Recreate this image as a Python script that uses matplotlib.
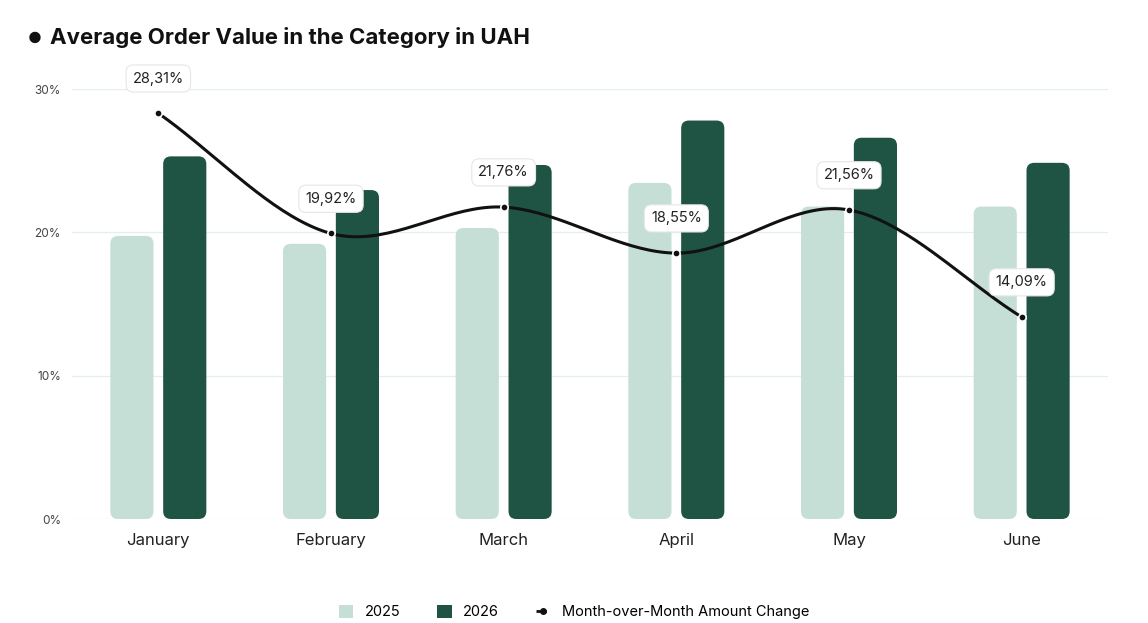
import matplotlib
matplotlib.use("Agg")
import matplotlib.pyplot as plt
import numpy as np
from matplotlib.patches import FancyBboxPatch
from matplotlib.lines import Line2D
from matplotlib.patches import Patch

plt.rcParams["font.family"] = ["Inter", "DejaVu Sans"]

months = ["January", "February", "March", "April", "May", "June"]
v2025 = [19.75, 19.2, 20.3, 23.45, 21.8, 21.8]
v2026 = [25.3, 22.95, 24.7, 27.8, 26.6, 24.85]
mom = [28.31, 19.92, 21.76, 18.55, 21.56, 14.09]
mom_labels = ["28,31%", "19,92%", "21,76%", "18,55%", "21,56%", "14,09%"]

LIGHT = "#c5dfd6"
DARK = "#1f5444"

fig = plt.figure(figsize=(11.48, 6.23), dpi=100)
ax = fig.add_axes([72 / 1148, 104 / 623, 1036 / 1148, 430 / 623])
x = np.arange(len(months))
ax.set_xlim(-0.5, len(months) - 0.5)
ax.set_ylim(0, 30)

# px -> data aspect for rounded corners
xpp = 6 / 1036
ypp = 30 / 430
aspect = ypp / xpp
w = 0.25
for xi, a, b in zip(x, v2025, v2026):
    for off, val, c in ((-0.153, a, LIGHT), (0.153, b, DARK)):
        ax.add_patch(FancyBboxPatch((xi + off - w / 2, 0), w, val,
                                    boxstyle="round,pad=0,rounding_size=0.045",
                                    mutation_aspect=aspect, fc=c, ec="none", zorder=2))

# smooth line (Catmull-Rom through the points)
pts = np.column_stack([x, mom]).astype(float)
ext = np.vstack([pts[0] * 2 - pts[1], pts, pts[-1] * 2 - pts[-2]])
curve = []
t = np.linspace(0, 1, 40)[:, None]
for i in range(1, len(ext) - 2):
    p0, p1, p2, p3 = ext[i - 1], ext[i], ext[i + 1], ext[i + 2]
    seg = 0.5 * ((2 * p1) + (-p0 + p2) * t + (2 * p0 - 5 * p1 + 4 * p2 - p3) * t ** 2
                 + (-p0 + 3 * p1 - 3 * p2 + p3) * t ** 3)
    curve.append(seg)
curve = np.vstack(curve)
ax.plot(curve[:, 0], curve[:, 1], color="#111111", lw=2.2, zorder=3)
ax.scatter(x, mom, s=28, color="#111111", edgecolor="white", linewidth=1.2, zorder=4)

for xi, v, lab in zip(x, mom, mom_labels):
    ax.annotate(lab, (xi, v), xytext=(0, 25), textcoords="offset points",
                ha="center", va="center", fontsize=10.5, color="#222222", zorder=5,
                annotation_clip=False,
                bbox=dict(boxstyle="round,pad=0.45,rounding_size=0.5", fc="white",
                          ec="#e6e6e6", lw=0.8))

ax.set_yticks([0, 10, 20, 30])
ax.set_yticklabels(["0%", "10%", "20%", "30%"], fontsize=8.5, color="#444444")
ax.set_xticks(x)
ax.set_xticklabels(months, fontsize=12, color="#222222")
ax.tick_params(length=0)
ax.tick_params(axis="y", pad=8)
ax.tick_params(axis="x", pad=10)
ax.grid(axis="y", color="#e3efea", lw=0.9, zorder=0)
ax.set_axisbelow(True)
for s in ax.spines.values():
    s.set_visible(False)

fig.text(28 / 1148, 1 - 38 / 623, "●", fontsize=11, va="center", color="#111111")
fig.text(50 / 1148, 1 - 38 / 623, "Average Order Value in the Category in UAH",
         fontsize=16, fontweight="bold", va="center", color="#111111")

handles = [Patch(fc=LIGHT, ec="none"), Patch(fc=DARK, ec="none"),
           Line2D([0], [0], color="#111111", lw=2, ls="--", marker="o", markersize=4)]
fig.legend(handles, ["2025", "2026", "Month-over-Month Amount Change"],
           loc="center", bbox_to_anchor=(0.5, 1 - 612 / 623), ncol=3, frameon=False,
           fontsize=10.5, handlelength=1.0, handleheight=1.0, columnspacing=2.5)

fig.savefig("out.png", dpi=100)
